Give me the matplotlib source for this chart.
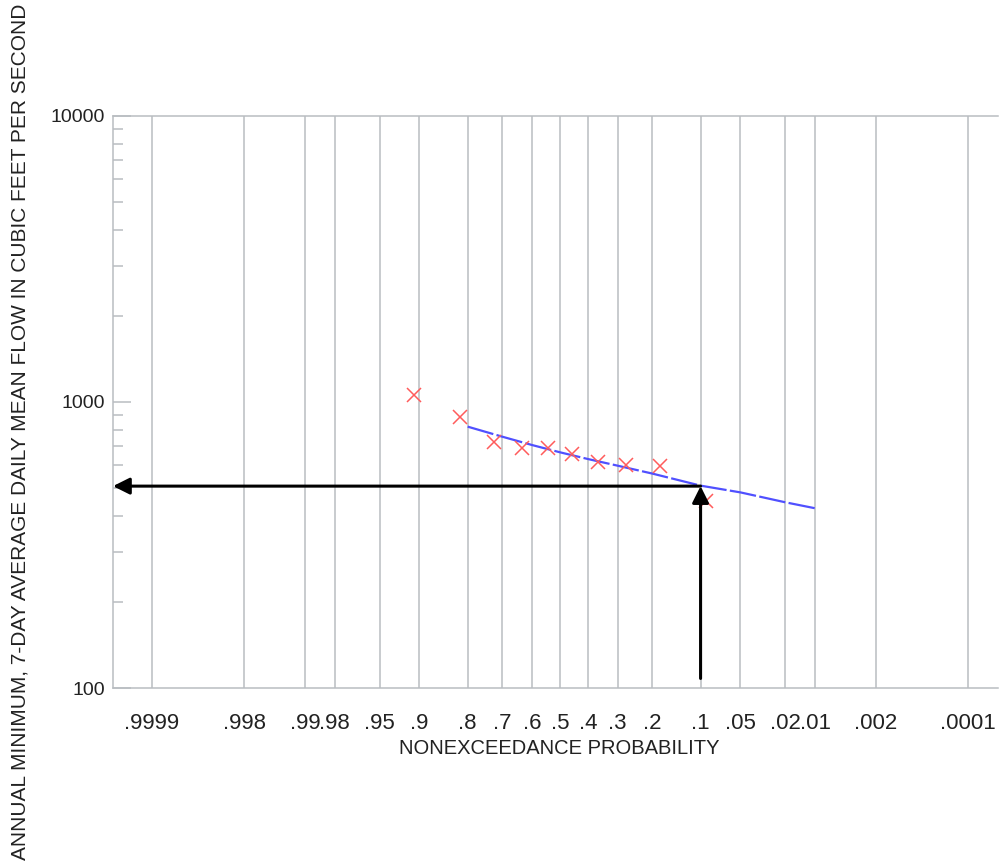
import numpy as np
import matplotlib
matplotlib.use("Agg")
from matplotlib import pyplot as plt
from statistics import NormalDist

# probability grid (nonexceedance, plotted on a normal scale)
prob_ticks = [0.9999, 0.998, 0.99, 0.98, 0.95, 0.9, 0.8, 0.7, 0.6, 0.5,
              0.4, 0.3, 0.2, 0.1, 0.05, 0.02, 0.01, 0.002, 0.0001]
prob_labels = [".9999", ".998", ".99", ".98", ".95", ".9", ".8", ".7", ".6", ".5",
               ".4", ".3", ".2", ".1", ".05", ".02", ".01", ".002", ".0001"]

# observed annual minimum 7-day flows and their plotting positions
obs_prob = [0.909, 0.818, 0.727, 0.636, 0.545, 0.455, 0.364, 0.273, 0.182, 0.091]
obs_flow = [1058, 886, 726, 692, 691, 658, 618, 604, 597, 452]

# fitted frequency curve
fit_prob = [0.8, 0.7, 0.6, 0.5, 0.4, 0.3, 0.2, 0.1, 0.05, 0.02, 0.01]
fit_flow = [820, 756, 707, 667, 632, 599, 562, 510, 483, 446, 425]

# 7Q10 read-off
design_prob = 0.1
design_flow = 508
arrow_start = 108

y_ticks = [100, 1000, 10000]
y_labels = ["100", "1000", "10000"]

plt.rcParams['font.family'] = ['Liberation Sans', 'DejaVu Sans']
txt_color = '#222222'
grid_color = '#b9bdc1'

nd = NormalDist()
def z(p):
    return nd.inv_cdf(p)

fig = plt.figure(figsize=(9.99, 8.63), dpi=100)
ax = fig.add_axes([113 / 999, 1 - 688 / 863, (998 - 113) / 999, (688 - 116) / 863])

ax.set_yscale('log')
ax.set_ylim(100, 10000)
ax.set_xlim(4.075, -3.993)

ax.set_xticks([z(p) for p in prob_ticks])
ax.set_xticklabels(prob_labels)
ax.set_yticks(y_ticks)
ax.set_yticklabels(y_labels)

ax.grid(axis='x', color=grid_color, lw=1.1, zorder=0)
ax.set_axisbelow(True)
ax.tick_params(axis='x', length=0, pad=18, labelsize=16, labelcolor=txt_color)
ax.tick_params(axis='y', which='major', direction='in', length=13, width=1.1,
               color=grid_color, pad=6, labelsize=14, labelcolor=txt_color)
ax.tick_params(axis='y', which='minor', direction='in', length=7, width=1.1,
               color=grid_color)

for s in ['left', 'bottom', 'top']:
    ax.spines[s].set_color(grid_color)
    ax.spines[s].set_linewidth(1.1)
ax.spines['right'].set_visible(False)

# observations
ax.plot([z(p) for p in obs_prob], obs_flow, 'x', color='#ff5c5c',
        markersize=9.5, mew=1.1, zorder=3)

# fitted curve
ax.plot([z(p) for p in fit_prob], fit_flow, color='#5050ff', lw=1.6,
        dashes=(12, 1.5), zorder=2)

# arrows
xd = z(design_prob)
ap = dict(arrowstyle='-|>', color='black', lw=2.2, mutation_scale=25,
          shrinkA=0, shrinkB=0)
ax.annotate("", xy=(ax.get_xlim()[0], design_flow), xytext=(xd, design_flow),
            arrowprops=ap, annotation_clip=False, zorder=4)
ax.annotate("", xy=(xd, design_flow), xytext=(xd, arrow_start),
            arrowprops=ap, annotation_clip=False, zorder=4)

fig.text(559 / 999, 1 - 748 / 863, "NONEXCEEDANCE PROBABILITY",
         ha='center', va='center', fontsize=14.5, color=txt_color)
fig.text(20 / 999, 0.5,
         "ANNUAL MINIMUM, 7-DAY AVERAGE DAILY MEAN FLOW IN CUBIC FEET PER SECOND",
         rotation=90, ha='center', va='center', fontsize=15, color=txt_color)

fig.savefig("out.png", dpi=100)
